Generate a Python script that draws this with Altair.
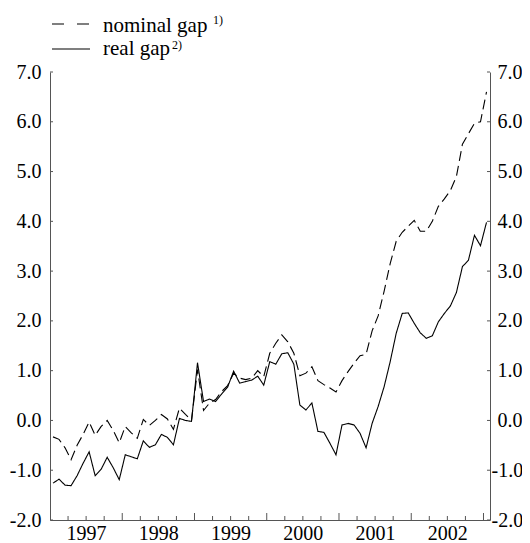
import altair as alt
import pandas as pd

# monthly observations, Jan 1997 .. Jan 2003
start_year = 1997
n_months = 73
real_gap = [-1.26, -1.18, -1.30, -1.31, -1.11, -0.86, -0.63, -1.11, -0.98, -0.74, -0.95, -1.19,
            -0.69, -0.73, -0.77, -0.41, -0.54, -0.49, -0.28, -0.34, -0.49, 0.04, 0.00, -0.02,
            1.16, 0.38, 0.43, 0.38, 0.53, 0.67, 0.99, 0.75, 0.78, 0.81, 0.89, 0.71,
            1.18, 1.13, 1.34, 1.36, 1.13, 0.31, 0.21, 0.35, -0.22, -0.24, -0.46, -0.69,
            -0.09, -0.06, -0.09, -0.26, -0.55, -0.06, 0.28, 0.68, 1.18, 1.75, 2.15, 2.16,
            1.95, 1.76, 1.65, 1.70, 1.98, 2.15, 2.30, 2.57, 3.09, 3.22, 3.72, 3.51, 3.98]
nominal_gap = [-0.33, -0.38, -0.55, -0.79, -0.50, -0.28, -0.03, -0.30, -0.12, 0.00, -0.20, -0.45,
               -0.12, -0.25, -0.36, 0.02, -0.10, 0.00, 0.12, 0.03, -0.18, 0.25, 0.12, 0.00,
               1.02, 0.20, 0.35, 0.42, 0.58, 0.70, 0.95, 0.85, 0.82, 0.85, 1.00, 0.88,
               1.35, 1.55, 1.72, 1.58, 1.35, 0.90, 0.95, 1.08, 0.80, 0.72, 0.65, 0.57,
               0.80, 0.98, 1.15, 1.30, 1.33, 1.80, 2.10, 2.60, 3.15, 3.60, 3.78, 3.90,
               4.02, 3.80, 3.80, 4.00, 4.30, 4.45, 4.62, 4.90, 5.55, 5.76, 5.97, 6.00, 6.60]

year_labels = [1997, 1998, 1999, 2000, 2001, 2002]
year_ticks = [1998, 1999, 2000, 2001, 2002, 2003]
quarter_ticks = [y + q for y in range(1997, 2003) for q in (0.25, 0.5, 0.75)]
y_ticks = [-2, -1, 0, 1, 2, 3, 4, 5, 6, 7]
legend_labels = ["nominal gap", "real gap"]
legend_notes = ["1)", "2)"]

# time position: middle of each month
t = [start_year + (m + 0.5) / 12 for m in range(n_months)]
df = pd.DataFrame({
    "t": t * 2,
    "v": nominal_gap + real_gap,
    "series": ["nominal"] * n_months + ["real"] * n_months,
})

FONT = "Liberation Serif"
FS = 20
LFS = 21
W, H = 440, 448

xs = alt.Scale(domain=[1997, 2003.09], nice=False, zero=False)
ys = alt.Scale(domain=[-2, 7], nice=False, zero=False)

axis_common = dict(grid=False, ticks=False, tickSize=0, domainColor="#555", domainWidth=1,
                   labelFont=FONT, labelFontSize=FS, labelColor="black")
x_axis = alt.Axis(values=[y + 0.5 for y in year_labels], labelExpr="floor(datum.value)",
                  labelPadding=3, labelFlush=False, **axis_common)
y_fmt = "replace(format(datum.value, '.1f'), '\u2212', '-')"

lines = alt.Chart(df).mark_line(color="black", strokeWidth=1.1).encode(
    x=alt.X("t:Q", scale=xs, title=None, axis=x_axis),
    y=alt.Y("v:Q", scale=ys, title=None,
            axis=alt.Axis(orient="left", values=y_ticks, labelExpr=y_fmt,
                          labelPadding=9, labelFlush=False, **axis_common)),
    strokeDash=alt.StrokeDash("series:N", legend=None,
                              scale=alt.Scale(domain=["nominal", "real"], range=[[10, 5], [1, 0]])),
    detail="series:N",
)

ydf = pd.DataFrame({"y": y_ticks})
right_axis = alt.Chart(ydf).mark_rule(color="#555", strokeWidth=1).encode(
    x=alt.value(W - 3), x2=alt.value(W),
    y=alt.Y("y:Q", scale=ys, title=None,
            axis=alt.Axis(orient="right", values=y_ticks, labelExpr=y_fmt,
                          labelPadding={"condition": {"test": "datum.value < 0", "value": 1}, "value": 7},
                          labelFlush=False, **axis_common)),
)
left_ticks = alt.Chart(ydf).mark_rule(color="#555", strokeWidth=1).encode(
    x=alt.value(0), x2=alt.value(3),
    y=alt.Y("y:Q", scale=ys, axis=None),
)

qdf = pd.DataFrame({"t": quarter_ticks})
q_rules = alt.Chart(qdf).mark_rule(color="#555", strokeWidth=1).encode(
    x=alt.X("t:Q", scale=xs, title=None, axis=x_axis), y=alt.value(H), y2=alt.value(H - 4),
)
ydf2 = pd.DataFrame({"t": year_ticks})
y_rules = alt.Chart(ydf2).mark_rule(color="#555", strokeWidth=1).encode(
    x=alt.X("t:Q", scale=xs, title=None, axis=x_axis), y=alt.value(H), y2=alt.value(H - 7),
)

# manual legend
ldf = pd.DataFrame({"label": legend_labels, "note": legend_notes})
leg_dash = alt.Chart(ldf.iloc[[0]]).mark_rule(color="black", strokeWidth=1.2, strokeDash=[12, 13]).encode(
    x=alt.value(2), x2=alt.value(40), y=alt.value(-48))
leg_solid = alt.Chart(ldf.iloc[[1]]).mark_rule(color="black", strokeWidth=1.2).encode(
    x=alt.value(2), x2=alt.value(40), y=alt.value(-23))
leg_t1 = alt.Chart(ldf.iloc[[0]]).mark_text(align="left", baseline="alphabetic", font=FONT,
                                             fontSize=LFS, color="black").encode(
    x=alt.value(53), y=alt.value(-40), text="label:N")
leg_t2 = alt.Chart(ldf.iloc[[1]]).mark_text(align="left", baseline="alphabetic", font=FONT,
                                             fontSize=LFS, color="black").encode(
    x=alt.value(53), y=alt.value(-17), text="label:N")
leg_n1 = alt.Chart(ldf.iloc[[0]]).mark_text(align="left", baseline="alphabetic", font=FONT,
                                             fontSize=12, color="black").encode(
    x=alt.value(163), y=alt.value(-48), text="note:N")
leg_n2 = alt.Chart(ldf.iloc[[1]]).mark_text(align="left", baseline="alphabetic", font=FONT,
                                             fontSize=12, color="black").encode(
    x=alt.value(122), y=alt.value(-23), text="note:N")

chart = alt.layer(
    lines, right_axis, left_ticks, q_rules, y_rules,
    leg_dash, leg_solid, leg_t1, leg_t2, leg_n1, leg_n2,
).resolve_scale(y="independent").properties(
    width=W, height=H,
    autosize=alt.AutoSizeParams(type="none"),
    padding={"left": 42, "top": 64, "right": 32, "bottom": 23},
).configure_view(stroke=None)

chart.save("out.html", embed_options={"renderer": "svg", "actions": False})
